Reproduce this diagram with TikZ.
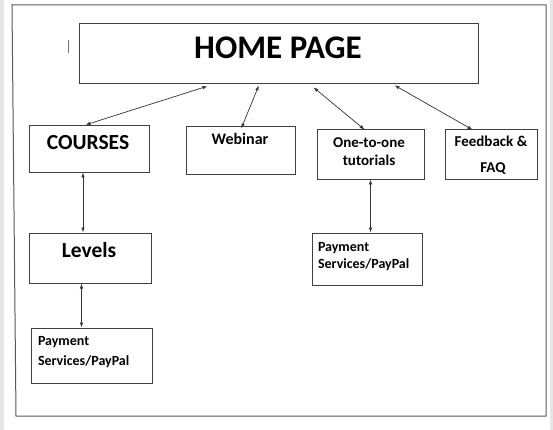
\documentclass[tikz,border=0pt]{standalone}
\usepackage{fontspec}
\setmainfont{Carlito}
\usetikzlibrary{arrows.meta}

\begin{document}
\begin{tikzpicture}[x=1pt, y=-1pt,
    every node/.style = {inner sep=0mm, outer sep=0mm, font=\bfseries, text=black},
           box/.style = {draw=black!75, line width=0.9pt, rectangle},
          link/.style = {{Latex[length=5pt,width=3.5pt]}-{Latex[length=5pt,width=3.5pt]},
                         line width=0.7pt, black!80, shorten <=0.5pt, shorten >=0.5pt},
           big/.style = {font=\bfseries\fontsize{21.5}{25}\selectfont},
         small/.style = {font=\bfseries\fontsize{15}{18}\selectfont},
          tiny/.style = {font=\bfseries\fontsize{14}{17}\selectfont}]%
  \useasboundingbox (0,0) rectangle (553,430);
  % page
  \fill [white]   (0,0) rectangle (553,430);
  \fill [black!10] (0,0) rectangle (4,430);
  \fill [black!10] (550,0) rectangle (553,430);
  \draw [black!65, line width=1pt] (12,5) -- (546,5) -- (546,416) -- (16,416) -- cycle;
  \draw [black!55, line width=0.8pt] (68,40) -- (68,53);
  % home
  \node [box, minimum width=399pt, minimum height=60pt] (home) at (278.5,53) {};
  \node [anchor=base, font=\bfseries\fontsize{33}{38}\selectfont] (homet) at (278,59) {HOME PAGE};
  % 1st row
  \node [box, minimum width=120pt, minimum height=47pt] (courses) at (89,148.5) {};
  \node [big, anchor=base]  (coursest) at (88,150) {COURSES};
  \node [box, minimum width=109pt, minimum height=48pt] (webinar) at (240.5,150) {};
  \node [small, anchor=base, font=\bfseries\fontsize{16}{19}\selectfont] (webinart) at (240,145) {Webinar};
  \node [box, minimum width=107pt, minimum height=50pt] (one) at (370.5,154) {};
  \node [small, anchor=base] (onet1) at (369,148) {One-to-one};
  \node [small, anchor=base] (onet2) at (369,166) {tutorials};
  \node [box, minimum width=92pt, minimum height=50pt] (faq) at (491,154) {};
  \node [small, anchor=base] (faqt1) at (491,147) {Feedback \&};
  \node [small, anchor=base] (faqt2) at (493,173) {FAQ};
  % 2nd row
  \node [box, minimum width=122pt, minimum height=50pt] (levels) at (90,258) {};
  \node [big, anchor=base]  (levelst) at (89,257.5) {Levels};
  \node [box, minimum width=110pt, minimum height=52pt] (pay2) at (367,259) {};
  \node [tiny, anchor=base west] (pay2t1) at (318,251) {Payment};
  \node [tiny, anchor=base west] (pay2t2) at (318,268) {Services/PayPal};
  % 3rd row
  \node [box, minimum width=121pt, minimum height=55pt] (pay1) at (91.5,355.5) {};
  \node [tiny, anchor=base west] (pay1t1) at (38,345) {Payment};
  \node [tiny, anchor=base west] (pay1t2) at (38,365) {Services/PayPal};
  % links
  \draw [link] ([xshift=-70.5pt,yshift=-3pt]home.south) -- ([xshift=-4pt]courses.north);
  \draw [link] ([xshift=-19.5pt,yshift=-2pt]home.south) -- ([xshift=0.5pt,yshift=-3pt]webinar.north);
  \draw [link] ([xshift=34.5pt,yshift=-4pt]home.south) -- ([xshift=-5.5pt,yshift=-1pt]one.north);
  \draw [link] ([xshift=115.5pt,yshift=-2pt]home.south) -- ([xshift=-18pt,yshift=-1pt]faq.north);
  \draw [link] ([xshift=-6pt]courses.south) -- ([xshift=-6pt]courses.south |- levels.north);
  \draw [link] ([xshift=-8.5pt]levels.south) -- ([xshift=-8.5pt]levels.south |- pay1.north);
  \draw [link] (one.south) -- (one.south |- pay2.north);
\end{tikzpicture}
\end{document}
